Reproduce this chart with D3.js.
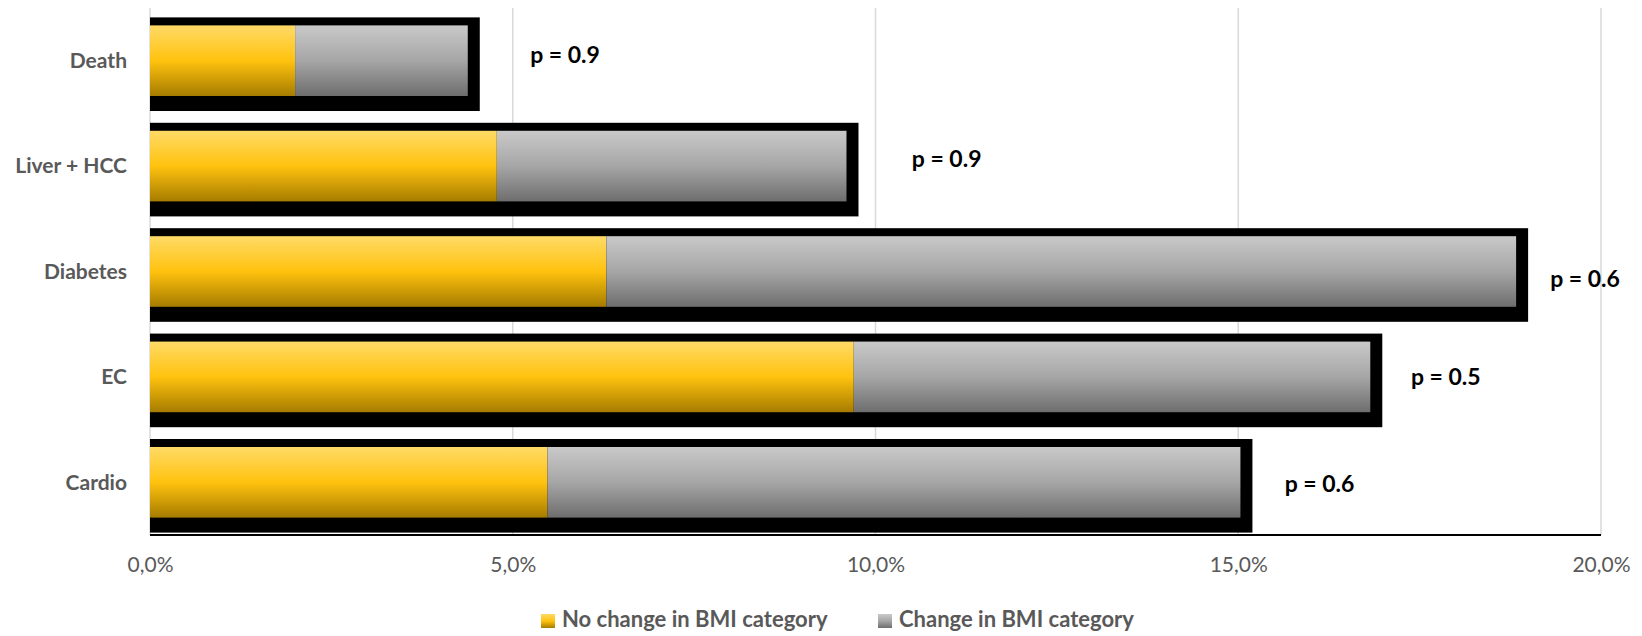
<!DOCTYPE html>
<html>
<head>
<meta charset="utf-8">
<script src="https://cdn.jsdelivr.net/npm/d3@7"></script>
<style>
  html, body { margin: 0; padding: 0; background: #fff; }
  svg { display: block; }
</style>
</head>
<body>
<svg id="chart" width="1642" height="636"></svg>
<script>
// ---- data ----
const categories = ["Death", "Liver + HCC", "Diabetes", "EC", "Cardio"];
const noChange = [2.0, 4.78, 6.29, 9.70, 5.48];      // % (yellow)
const change = [2.38, 4.82, 12.54, 7.12, 9.55];       // % (grey)
const pValues = ["p = 0.9", "p = 0.9", "p = 0.6", "p = 0.5", "p = 0.6"];
const pLabelX = [5.24, 10.50, 19.30, 17.38, 15.64];   // annotation anchor in axis units (%)
const pLabelDy = [-4, -5, 10, 2, 4];                  // annotation vertical nudge
const xTicks = [0, 5, 10, 15, 20];
const seriesNames = ["No change in BMI category", "Change in BMI category"];

// ---- layout ----
const svg = d3.select("#chart");
const plot = { left: 150, right: 1601, top: 8, bottom: 535 };
const x = d3.scaleLinear().domain([0, 20]).range([plot.left, plot.right]);
const y = d3.scaleBand().domain(categories).range([plot.top, plot.bottom])
  .paddingInner(0.33).paddingOuter(0.165);
const FONT = "Lato, 'Open Sans', sans-serif";

const defs = svg.append("defs");
function grad(id, stops) {
  const g = defs.append("linearGradient").attr("id", id)
    .attr("x1", 0).attr("y1", 0).attr("x2", 0).attr("y2", 1);
  stops.forEach(s => g.append("stop").attr("offset", s[0]).attr("stop-color", s[1]));
}
grad("gYellow", [[0, "#ffda66"], [0.5, "#ffc20e"], [1, "#a67c00"]]);
grad("gGrey", [[0, "#c9c9c9"], [0.5, "#a6a6a6"], [1, "#6e6e6e"]]);

// gridlines
svg.append("g").selectAll("line").data(xTicks).join("line")
  .attr("x1", d => x(d)).attr("x2", d => x(d))
  .attr("y1", plot.top).attr("y2", plot.bottom)
  .attr("stroke", "#d9d9d9").attr("stroke-width", 1.5);

// x axis (labels only)
const xAxis = d3.axisBottom(x).tickValues(xTicks).tickSize(0)
  .tickFormat(d => d.toFixed(1).replace(".", ",") + "%");
const gx = svg.append("g").attr("transform", `translate(0,${plot.bottom})`).call(xAxis);
gx.select(".domain").remove();
gx.selectAll("text").attr("dy", null).attr("y", 32).attr("dominant-baseline", "middle")
  .attr("font-family", FONT).attr("font-size", 21)
  .attr("fill", "#595959");

const rows = categories.map((c, i) => ({ c, a: noChange[i], b: change[i], p: pValues[i], px: pLabelX[i], pdy: pLabelDy[i] }));
const bh = y.bandwidth();

// black backing frame
svg.append("g").selectAll("rect").data(rows).join("rect")
  .attr("x", x(0)).attr("y", d => y(d.c) - 8)
  .attr("width", d => x(d.a + d.b) - x(0) + 12)
  .attr("height", bh + 23)
  .attr("fill", "#000");

// yellow segment
svg.append("g").selectAll("rect").data(rows).join("rect")
  .attr("x", x(0)).attr("y", d => y(d.c))
  .attr("width", d => x(d.a) - x(0)).attr("height", bh)
  .attr("fill", "url(#gYellow)");

// grey segment
svg.append("g").selectAll("rect").data(rows).join("rect")
  .attr("x", d => x(d.a)).attr("y", d => y(d.c))
  .attr("width", d => x(d.a + d.b) - x(d.a)).attr("height", bh)
  .attr("fill", "url(#gGrey)");

// bottom axis line
svg.append("line").attr("x1", plot.left).attr("x2", plot.right)
  .attr("y1", plot.bottom).attr("y2", plot.bottom)
  .attr("stroke", "#000").attr("stroke-width", 2);

// category labels
const yAxis = d3.axisLeft(y).tickSize(0).tickPadding(0);
const gy = svg.append("g").attr("transform", `translate(127,2)`).call(yAxis);
gy.select(".domain").remove();
gy.selectAll("text").attr("dy", null).attr("dominant-baseline", "middle")
  .attr("font-family", FONT).attr("font-size", 21)
  .attr("font-weight", "bold").attr("fill", "#595959");

// p-value annotations
svg.append("g").selectAll("text").data(rows).join("text")
  .attr("x", d => x(d.px)).attr("y", d => y(d.c) + bh / 2 + d.pdy)
  .attr("dominant-baseline", "middle")
  .attr("font-family", FONT).attr("font-size", 23)
  .attr("font-weight", "bold").attr("fill", "#000")
  .text(d => d.p);

// legend
const legendItems = [
  { name: seriesNames[0], fill: "url(#gYellow)", sx: 541 },
  { name: seriesNames[1], fill: "url(#gGrey)", sx: 878 }
];
const lg = svg.append("g").selectAll("g").data(legendItems).join("g")
  .attr("transform", d => `translate(${d.sx},614)`);
lg.append("rect").attr("width", 14).attr("height", 14).attr("fill", d => d.fill);
lg.append("text").attr("x", 21).attr("y", 7).attr("dominant-baseline", "middle")
  .attr("font-family", FONT).attr("font-size", 22)
  .attr("font-weight", "bold").attr("fill", "#595959")
  .text(d => d.name);
</script>
</body>
</html>
